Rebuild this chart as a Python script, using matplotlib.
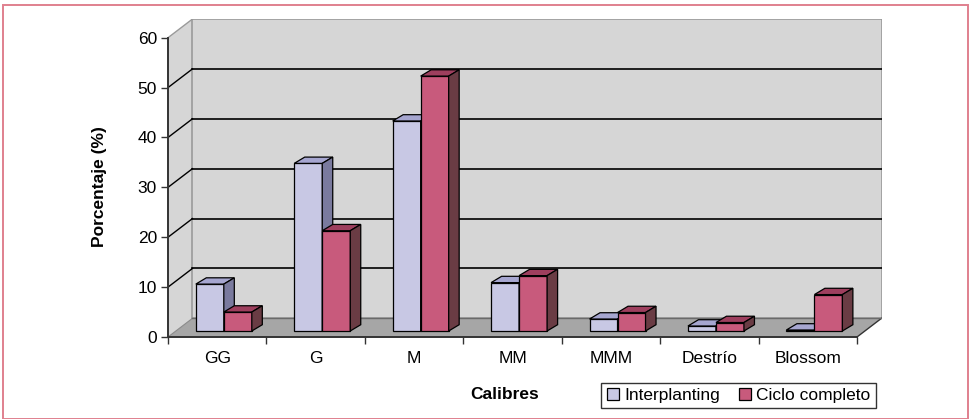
import matplotlib
matplotlib.use("Agg")
import matplotlib.pyplot as plt
from matplotlib.patches import Polygon, Rectangle

plt.rcParams["font.family"] = ["Liberation Sans", "DejaVu Sans"]

categories = ["GG", "G", "M", "MM", "MMM", "Destrío", "Blossom"]
interplanting = [9.4, 33.6, 42.1, 9.7, 2.4, 1.0, 0.2]
ciclo_completo = [3.8, 20.1, 51.1, 11.1, 3.7, 1.7, 7.3]
series_names = ["Interplanting", "Ciclo completo"]

# front / top / side shades for each series
shades = {
    "Interplanting": ("#c8c8e4", "#a6a6d0", "#7a7a9e"),
    "Ciclo completo": ("#c85a7c", "#9e3f5e", "#6a3c44"),
}

FS = 12.5
W, H, DPI = 970, 419, 100
fig = plt.figure(figsize=(W / DPI, H / DPI), dpi=DPI)

# pixel geometry of the plot box
x_left, x_right = 168, 857
y_zero, y_top = 337, 37.7
px_cat = (x_right - x_left) / len(categories)
px_val = (y_zero - y_top) / 60

# depth offsets (data units)
wall_dx, wall_dy = 24.5 / px_cat, 18.7 / px_val
base_dx, base_dy = 6.6 / px_cat, 6.0 / px_val
bar_dx, bar_dy = 10.5 / px_cat, 6.3 / px_val
bar_w = 28 / px_cat

xmin, xmax = -0.5, len(categories) - 0.5
ax = fig.add_axes([
    x_left / W,
    (H - y_zero) / H,
    (x_right + 24.5 - x_left) / W,
    (y_zero - (y_top - 18.7)) / H,
])
ax.set_xlim(xmin, xmax + wall_dx)
ax.set_ylim(0, 60 + wall_dy)

wall_grey = "#d6d6d6"
# side wall, back wall, floor
ax.add_patch(Polygon([(xmin, 0), (xmin + wall_dx, wall_dy), (xmin + wall_dx, 60 + wall_dy), (xmin, 60)],
                     facecolor=wall_grey, edgecolor="none", zorder=0))
ax.add_patch(Rectangle((xmin + wall_dx, wall_dy), xmax - xmin, 60, facecolor=wall_grey,
                       edgecolor="#9a9a9a", linewidth=1.2, zorder=0))
ax.add_patch(Polygon([(xmin, 0), (xmax, 0), (xmax + wall_dx, wall_dy), (xmin + wall_dx, wall_dy)],
                     facecolor="#a6a6a6", edgecolor="none", zorder=1))
ax.plot([xmax, xmax + wall_dx], [0, wall_dy], color="#333333", lw=1.0, zorder=2)
ax.plot([xmin, xmin + wall_dx], [60, 60 + wall_dy], color="#9a9a9a", lw=1.0, zorder=2)
ax.plot([xmin, xmin + wall_dx], [0, wall_dy], color="#8a8a8a", lw=0.8, zorder=2)
ax.plot([xmin + wall_dx, xmax + wall_dx], [wall_dy, wall_dy], color="#6a6a6a", lw=1.0, zorder=2)

for v in range(10, 60, 10):
    ax.plot([xmin + wall_dx, xmax + wall_dx], [v + wall_dy, v + wall_dy], color="black", lw=1.2, zorder=1)
    ax.plot([xmin, xmin + wall_dx], [v, v + wall_dy], color="black", lw=1.0, zorder=1)

handles = []
for i in range(len(categories)):
    for k, (name, values) in enumerate(zip(series_names, [interplanting, ciclo_completo])):
        front, top, side = shades[name]
        v = values[i]
        left = i - bar_w + k * bar_w + base_dx
        b = ax.bar(left, v, width=bar_w, bottom=base_dy, align="edge", color=front,
                   edgecolor="black", linewidth=0.9, zorder=3 + i)
        ax.add_patch(Polygon([(left, base_dy + v), (left + bar_w, base_dy + v),
                              (left + bar_w + bar_dx, base_dy + v + bar_dy), (left + bar_dx, base_dy + v + bar_dy)],
                             facecolor=top, edgecolor="black", linewidth=0.9, zorder=3 + i))
        ax.add_patch(Polygon([(left + bar_w, base_dy), (left + bar_w + bar_dx, base_dy + bar_dy),
                              (left + bar_w + bar_dx, base_dy + v + bar_dy), (left + bar_w, base_dy + v)],
                             facecolor=side, edgecolor="black", linewidth=0.9, zorder=3 + i))
        if i == 0:
            handles.append(b)

for s in ["top", "right"]:
    ax.spines[s].set_visible(False)
ax.spines["left"].set_bounds(0, 60)
ax.spines["bottom"].set_bounds(xmin, xmax)
for s in ["left", "bottom"]:
    ax.spines[s].set_color("#333333")
    ax.spines[s].set_linewidth(1.4)
    ax.spines[s].set_zorder(20)

ax.set_yticks(range(0, 61, 10))
ax.tick_params(axis="y", direction="out", length=5, width=1, color="#333333", labelsize=FS, pad=3)
ax.set_xticks([xmin + k for k in range(len(categories) + 1)])
ax.set_xticklabels([])
ax.set_xticks(range(len(categories)), minor=True)
ax.set_xticklabels(categories, minor=True)
ax.tick_params(axis="x", which="major", direction="out", length=5, width=1, color="#333333")
ax.tick_params(axis="x", which="minor", length=0, labelsize=FS, pad=10)

fig.text(505 / W, 1 - 394 / H, "Calibres", ha="center", va="center", fontsize=FS, fontweight="bold")
fig.text(100 / W, 1 - 187 / H, "Porcentaje (%)", ha="center", va="center", rotation=90,
         fontsize=FS, fontweight="bold")

leg = fig.legend(handles, series_names, loc="center", bbox_to_anchor=(738.5 / W, 1 - 395.5 / H),
                 ncol=2, frameon=True, fancybox=False, edgecolor="black", fontsize=FS,
                 handlelength=0.7, handleheight=0.7, handletextpad=0.3, columnspacing=1.1,
                 borderpad=0.3, borderaxespad=0)
leg.get_frame().set_linewidth(1.0)

fig.patches.append(Rectangle((3.5 / W, 0), 965 / W, 1 - 5.5 / H, transform=fig.transFigure,
                             fill=False, edgecolor="#e0808e", linewidth=1.4, clip_on=False))

fig.savefig("out.png", dpi=DPI)
